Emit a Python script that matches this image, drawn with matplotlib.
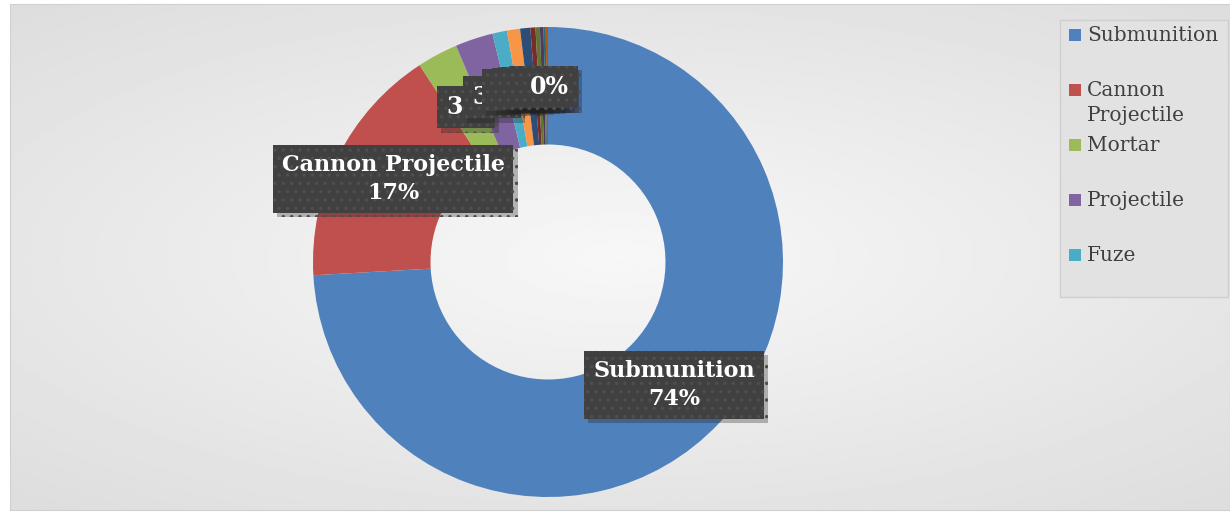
import numpy as np
import matplotlib
matplotlib.use("Agg")
import matplotlib.pyplot as plt
import matplotlib.patheffects as pe
from matplotlib.patches import Rectangle

# slice data, clockwise from 12 o'clock
categories = ["Submunition", "Cannon Projectile", "Mortar", "Projectile", "Fuze",
              "Rocket", "Grenade", "Bomb", "Mine", "Flare", "Missile", "Other"]
shares = [74.1, 16.7, 2.8, 2.6, 1.0, 0.9, 0.7, 0.35, 0.3, 0.25, 0.15, 0.15]
colors = ["#4F81BD", "#C0504D", "#9BBB59", "#8064A2", "#4BACC6", "#F79646",
          "#2C4D75", "#772C2A", "#5F7530", "#4D3B62", "#276A7C", "#B65708"]
legend_labels = ["Submunition", "Cannon\nProjectile", "Mortar", "Projectile", "Fuze"]

W, H = 1230, 514
fig = plt.figure(figsize=(W / 100, H / 100), dpi=100)
fig.patch.set_facecolor("white")

# chart area background, soft radial gradient
bg = fig.add_axes([10 / W, 4 / H, 1220 / W, 506 / H])
yy, xx = np.mgrid[-1:1:200j, -1:1:400j]
rr = np.sqrt((xx * 0.9) ** 2 + yy ** 2)
bg.imshow(0.97 - 0.1 * np.clip(rr, 0, 1.3) / 1.3, cmap="gray", vmin=0, vmax=1,
          aspect="auto", extent=(0, 1, 0, 1))
bg.set_xlim(0, 1)
bg.set_ylim(0, 1)
for s in bg.spines.values():
    s.set_color("#d0d0d0")
bg.set_xticks([])
bg.set_yticks([])

# donut
cx, cy, R = 548, 262, 235
ax = fig.add_axes([(cx - R) / W, (H - cy - R) / H, 2 * R / W, 2 * R / H])
wedges, _ = ax.pie(shares, colors=colors, startangle=90, counterclock=False,
                   radius=1, wedgeprops=dict(width=0.5, linewidth=0))
ax.set_xlim(-1, 1)
ax.set_ylim(-1, 1)
ax.set_aspect("auto")
ax.axis("off")

plt.rcParams["hatch.linewidth"] = 1.3


def label(text, px, py, size=16):
    x = (px - cx) / R
    y = (cy - py) / R
    t = ax.text(x, y, text, ha="center", va="center", color="white",
                fontsize=size, fontweight="bold", family="DejaVu Serif",
                linespacing=1.4,
                bbox=dict(boxstyle="square,pad=0.4", facecolor="#404040",
                          edgecolor="#4e4e4e", linewidth=0, hatch=".."))
    t.get_bbox_patch().set_path_effects(
        [pe.withSimplePatchShadow(offset=(3, -3), shadow_rgbFace="#202020", alpha=0.3),
         pe.Normal()])
    return t


pct = ["%d%%" % round(v) for v in shares]
label(categories[0] + "\n" + pct[0], 674, 385)
label(categories[1] + "\n" + pct[1], 393, 179)
small_pos = [(466, 107), (492, 97), (511, 90), (521, 89), (527, 88), (533, 88),
             (538, 87), (542, 87), (546, 87), (549, 87)]
for (px, py), p in zip(small_pos, pct[2:]):
    label(p, px, py, size=17)

# legend
fig.patches.append(Rectangle((1060 / W, 1 - 297 / H), 168 / W, 277 / H,
                             transform=fig.transFigure, facecolor="#e2e2e2",
                             edgecolor="#cfcfcf", linewidth=1))
rows = [35, 90, 145, 200, 255]
for lab, col, ry in zip(legend_labels, colors, rows):
    fig.patches.append(Rectangle((1069 / W, 1 - (ry + 6) / H), 12 / W, 12 / H,
                                 transform=fig.transFigure, facecolor=col,
                                 edgecolor="none"))
    fig.text(1087 / W, 1 - (ry - 9) / H, lab, ha="left", va="top",
             fontsize=14.5, family="DejaVu Serif", color="#404040",
             linespacing=1.4)

fig.savefig("out.png", dpi=100)
